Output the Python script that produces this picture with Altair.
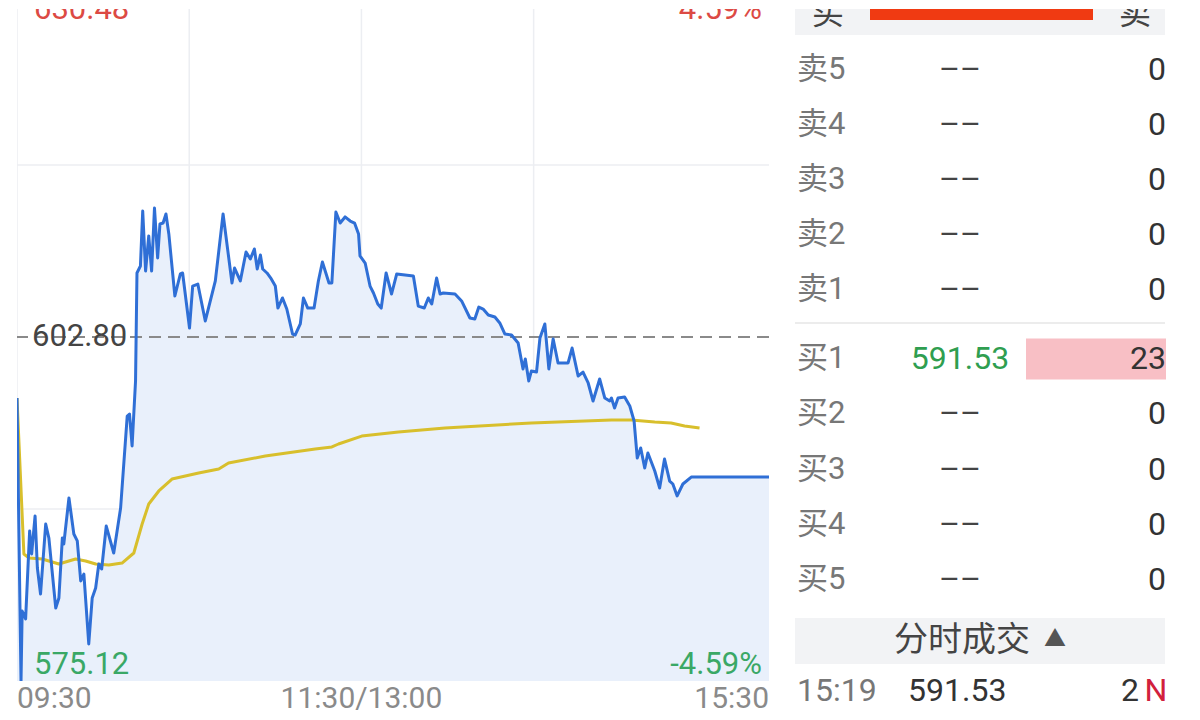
import altair as alt
import pandas as pd

# ---------------- intraday data (chart minutes from 09:30; 240 = 15:00, 262 = 15:30) ----------------
price_t = [0, 1.4, 1.8, 3.0, 4.4, 5.1, 6.3, 7.1, 8.2, 10.0, 11.1, 13.5, 14.6, 15.8, 16.3, 18.1, 19.8, 21.0,
           22.2, 23.3, 25.0, 26.2, 27.4, 28.5, 29.5, 31.1, 33.7, 36.1, 38.4, 39.2, 40.1, 41.3, 41.8, 43.0,
           43.8, 44.8, 45.9, 46.9, 47.9, 49.0, 49.8, 50.9, 51.9, 52.9, 55.0, 56.9, 57.7, 60.1, 61.2, 63.0,
           65.6, 69.1, 71.8, 74.9, 75.8, 77.8, 79.8, 81.3, 82.7, 83.7, 84.8, 85.6, 87.1, 88.6, 90.0, 90.9,
           92.5, 94.0, 96.0, 96.9, 98.7, 99.8, 101.3, 103.5, 105.0, 106.4, 108.7, 109.7, 111.1, 112.6, 114.3,
           116.1, 117.6, 119.0, 119.5, 121.3, 123.0, 124.2, 125.7, 126.9, 128.6, 130.5, 132.3, 138.1, 139.8,
           141.9, 143.3, 144.5, 146.2, 147.4, 148.5, 152.6, 154.9, 157.8, 159.5, 160.9, 162.4, 164.2, 166.5,
           168.2, 170.0, 172.3, 174.6, 176.3, 177.1, 178.3, 179.2, 181.0, 182.2, 183.9, 185.3, 186.8, 188.5,
           192.0, 193.4, 195.5, 197.2, 199.0, 200.7, 203.0, 204.8, 206.5, 207.1, 208.2, 209.4, 211.7, 213.5,
           215.0, 216.1, 217.3, 218.7, 219.8, 222.2, 223.9, 225.6, 227.4, 228.5, 230.0, 232.0, 234.9, 240.0,
           262.0]
price_v = [597.89, 575.12, 580.75, 580.11, 587.19, 585.34, 588.40, 584.21, 582.12, 587.75, 586.63, 580.99,
           581.80, 586.63, 586.14, 589.85, 586.95, 586.39, 583.17, 583.73, 578.10, 581.80, 582.60, 584.53,
           584.13, 587.59, 585.42, 589.04, 596.44, 596.60, 594.03, 599.26, 607.95, 608.51, 612.94, 608.11,
           610.93, 608.11, 613.18, 609.16, 611.89, 611.97, 612.70, 611.09, 606.10, 607.87, 607.95, 603.52,
           606.90, 607.06, 604.09, 607.31, 612.70, 607.15, 608.35, 607.31, 609.64, 609.08, 609.88, 608.27,
           609.40, 608.27, 607.95, 607.47, 606.90, 605.13, 605.94, 605.05, 603.04, 602.96, 603.85, 605.94,
           605.13, 605.13, 607.31, 608.83, 607.15, 607.15, 612.86, 611.97, 612.46, 612.13, 611.97, 611.09,
           609.32, 608.75, 606.90, 606.34, 605.46, 605.13, 607.95, 606.26, 607.87, 607.71, 605.29, 605.13,
           605.94, 605.46, 607.55, 606.26, 606.34, 606.26, 605.70, 604.33, 604.25, 605.21, 605.05, 604.57,
           604.41, 603.93, 603.04, 602.96, 602.32, 600.23, 601.03, 599.26, 600.06, 599.98, 602.72, 603.85,
           600.23, 602.64, 600.71, 600.71, 601.91, 599.66, 599.98, 599.10, 597.65, 599.42, 597.89, 597.65,
           597.89, 597.09, 597.89, 597.97, 597.25, 596.04, 593.06, 593.87, 592.26, 593.47, 592.02, 590.65,
           592.98, 591.21, 590.97, 590.01, 590.97, 591.53, 591.53, 591.53]
avg_t = [0, 2.4, 4.2, 8.8, 14.6, 20.4, 23.9, 27.4, 32.0, 36.6, 40.7, 43.6, 45.9, 49.4, 54.0, 63.3, 70.3,
         73.7, 86.5, 103.9, 109.7, 112.0, 120.1, 132.9, 149.1, 179.2, 207.1, 214.0, 222.2, 227.9, 232.6, 237.8]
avg_v = [597.89, 585.34, 585.02, 584.94, 584.53, 584.94, 584.78, 584.53, 584.45, 584.61, 585.42, 587.75,
         589.36, 590.41, 591.37, 591.86, 592.18, 592.66, 593.22, 593.79, 593.95, 594.19, 594.83, 595.16,
         595.48, 595.88, 596.12, 596.12, 595.96, 595.88, 595.64, 595.48]
prev_close = 602.80

tick_labels = ["09:30", "11:30/13:00", "15:30"]
tick_t = [0, 120, 262]
grid_t = [0, 60, 120, 180]

# ---------------- order book ----------------
sell_levels = ["卖5", "卖4", "卖3", "卖2", "卖1"]
sell_prices = [None, None, None, None, None]
sell_vols = [0, 0, 0, 0, 0]
buy_levels = ["买1", "买2", "买3", "买4", "买5"]
buy_prices = [591.53, None, None, None, None]
buy_vols = [23, 0, 0, 0, 0]
trade_time = ["15:19"]
trade_price = [591.53]
trade_vol = [2]
trade_flag = ["N"]

# ---------------- styles ----------------
BLUE = "#2f6fd6"
AREA = "#e9f0fb"
YEL = "#d8bf2c"
RED = "#dc4a44"
GREEN = "#3aa866"
GREEN2 = "#2f9e50"
PINK = "#f8bfc5"
BAR_RED = "#f03a12"
HDR = "#f2f3f5"
FONT = "Roboto, 'Noto Sans CJK SC'"

W, H = 752, 672
FULL_H = 688  # height of the full +/- range; its top 16px lie above the page

dev = max(abs(v - prev_close) for v in price_v)
yhi, ylo = prev_close + dev, prev_close - dev
ytop = yhi - (yhi - ylo) * (FULL_H - H) / FULL_H
pct = dev / prev_close * 100

xs = alt.Scale(domain=[tick_t[0], tick_t[-1]], nice=False, zero=False)
ys = alt.Scale(domain=[ylo, ytop], nice=False, zero=False)
X = alt.X("t:Q", scale=xs, axis=None)
Y = alt.Y("v:Q", scale=ys, axis=None)

line_df = pd.DataFrame({"t": price_t, "v": price_v})
avg_df = pd.DataFrame({"t": avg_t, "v": avg_v})

vgrid = alt.Chart(pd.DataFrame({"t": grid_t})).mark_rule(
    color="#eceef2", strokeWidth=1.5, clip=True).encode(x=X)
hgrid = alt.Chart(pd.DataFrame({"v": [prev_close - dev / 2, prev_close + dev / 2]})).mark_rule(
    color="#eceef2", strokeWidth=1.5, clip=True).encode(y=Y)
area = alt.Chart(line_df).mark_area(color=AREA, clip=True).encode(x=X, y=Y, y2=alt.datum(ylo))
prev_rule = alt.Chart(pd.DataFrame({"v": [prev_close]})).mark_rule(
    color="#8a8a8a", strokeWidth=2.2, strokeDash=[12, 7], clip=True).encode(y=Y)
blue = alt.Chart(line_df).mark_line(color=BLUE, strokeWidth=3, clip=True,
                                    strokeJoin="round").encode(x=X, y=Y)
yellow = alt.Chart(avg_df).mark_line(color=YEL, strokeWidth=3, clip=True,
                                     strokeJoin="round").encode(x=X, y=Y)

lab_df = pd.DataFrame({
    "hi": [f"{yhi:.2f}"], "lo": [f"{ylo:.2f}"], "pc": [f"{prev_close:.2f}"],
    "up": [f"{pct:.2f}%"], "dn": [f"-{pct:.2f}%"], "v": [prev_close]})
base_lab = alt.Chart(lab_df)
t_hi = base_lab.mark_text(align="left", baseline="alphabetic", fontSize=31, color=RED, font=FONT,
                          clip=True).encode(x=alt.value(17), y=alt.value(10), text="hi:N")
t_up = base_lab.mark_text(align="right", baseline="alphabetic", fontSize=31, color=RED, font=FONT,
                          clip=True).encode(x=alt.value(745), y=alt.value(10), text="up:N")
t_pc = base_lab.mark_text(align="left", baseline="middle", fontSize=31, color="#444444",
                          font=FONT).encode(x=alt.value(15), y=Y, text="pc:N")
t_lo = base_lab.mark_text(align="left", baseline="middle", fontSize=31, color=GREEN,
                          font=FONT).encode(x=alt.value(17), y=alt.value(656), text="lo:N")
t_dn = base_lab.mark_text(align="right", baseline="middle", fontSize=31, color=GREEN,
                          font=FONT).encode(x=alt.value(745), y=alt.value(656), text="dn:N")

ticks = []
for lab, t, al in zip(tick_labels, tick_t, ["left", "center", "right"]):
    ticks.append(alt.Chart(pd.DataFrame({"lab": [lab], "t": [t]})).mark_text(
        align=al, baseline="middle", fontSize=30, color="#8a8a8a", font=FONT
    ).encode(x=X, y=alt.value(690), text="lab:N"))

left = alt.layer(vgrid, hgrid, area, prev_rule, yellow, blue, t_hi, t_up, t_pc, t_lo, t_dn,
                 *ticks).properties(width=W, height=H)

# ---------------- right panel ----------------
RW, RH = 372, 700
one = pd.DataFrame({"a": [0]})
FS = 32

hdr_bg = alt.Chart(one).mark_rect(color=HDR).encode(
    x=alt.value(0), x2=alt.value(370), y=alt.value(0), y2=alt.value(26))
hdr2_bg = alt.Chart(one).mark_rect(color=HDR).encode(
    x=alt.value(0), x2=alt.value(370), y=alt.value(609), y2=alt.value(655))
sep = alt.Chart(one).mark_rule(color="#ececec", strokeWidth=2).encode(
    x=alt.value(0), x2=alt.value(370), y=alt.value(314))

ratio_df = pd.DataFrame({"buy": [sum(buy_vols)], "sell": [sum(sell_vols)]})
ratio = alt.Chart(ratio_df).transform_calculate(
    share="datum.buy / (datum.buy + datum.sell)"
).mark_rect(color=BAR_RED).encode(
    x=alt.X("share:Q", scale=alt.Scale(domain=[0, 1], range=[75, 298]), axis=None),
    x2=alt.datum(0), y=alt.value(0), y2=alt.value(11))

hdr_buy = alt.Chart(one).mark_text(text="买", fontSize=FS, color="#444", font=FONT, baseline="alphabetic",
                                    clip=True).encode(x=alt.value(33), y=alt.value(15))
hdr_sell = alt.Chart(one).mark_text(text="卖", fontSize=FS, color="#444", font=FONT, baseline="alphabetic",
                                     clip=True).encode(x=alt.value(340), y=alt.value(15))

maxvol = max(buy_vols + sell_vols)
pcol_expr = (f"!isValid(datum.price) ? '#444444' : (datum.price < {prev_close} ? '{GREEN2}' : "
             f"(datum.price > {prev_close} ? '{RED}' : '#444444'))")


def book(levels, prices, vols, rng, with_bar):
    df = pd.DataFrame({"level": levels, "price": prices, "vol": vols})
    base = alt.Chart(df).transform_calculate(
        ptxt="isValid(datum.price) ? format(datum.price, '.2f') : '\u2013\u2013'",
        pcol=pcol_expr)
    Yb = alt.Y("level:N", scale=alt.Scale(type="point", domain=levels, range=rng, padding=0), axis=None)
    layers = []
    if with_bar:
        layers.append(base.transform_filter("datum.vol > 0").mark_bar(size=41, color=PINK).encode(
            x=alt.X("vol:Q", scale=alt.Scale(domain=[0, maxvol], range=[371, 231]), axis=None),
            x2=alt.datum(0), y=Yb))
    layers.append(base.mark_text(align="left", baseline="middle", fontSize=FS - 1, color="#777777",
                                 font=FONT).encode(x=alt.value(2), y=Yb, text="level:N"))
    layers.append(base.mark_text(align="center", baseline="middle", fontSize=FS, font=FONT).encode(
        x=alt.value(165), y=Yb, text="ptxt:N", color=alt.Color("pcol:N", scale=None)))
    layers.append(base.mark_text(align="right", baseline="middle", fontSize=FS, color="#333333",
                                 font=FONT).encode(x=alt.value(371), y=Yb, text="vol:Q"))
    return alt.layer(*layers)


sell_book = book(sell_levels, sell_prices, sell_vols, [61, 281], False)
buy_book = book(buy_levels, buy_prices, buy_vols, [350, 571], True)

hdr2_txt = alt.Chart(one).mark_text(text="分时成交", fontSize=34, color="#444", font=FONT,
                                     baseline="middle").encode(x=alt.value(167), y=alt.value(632))
hdr2_tri = alt.Chart(one).mark_text(text="▲", fontSize=22, color="#555", font=FONT,
                                     baseline="middle").encode(x=alt.value(260), y=alt.value(630))

trade_df = pd.DataFrame({"time": trade_time, "price": trade_price, "vol": trade_vol, "flag": trade_flag})
tb = alt.Chart(trade_df)
tr_time = tb.mark_text(align="left", baseline="middle", fontSize=FS, color="#777777", font=FONT).encode(
    x=alt.value(2), y=alt.value(682), text="time:N")
tr_price = tb.mark_text(align="left", baseline="middle", fontSize=FS, color="#333333", font=FONT).encode(
    x=alt.value(113), y=alt.value(682), text=alt.Text("price:Q", format=".2f"))
tr_vol = tb.mark_text(align="right", baseline="middle", fontSize=FS, color="#333333", font=FONT).encode(
    x=alt.value(344), y=alt.value(682), text="vol:Q")
tr_flag = tb.mark_text(align="center", baseline="middle", fontSize=FS, color="#d2203c", font=FONT).encode(
    x=alt.value(361), y=alt.value(682), text="flag:N")

right = alt.layer(hdr_bg, hdr2_bg, sep, ratio, hdr_buy, hdr_sell, sell_book, buy_book, hdr2_txt, hdr2_tri,
                  tr_time, tr_price, tr_vol, tr_flag).resolve_scale(
    x="independent", y="independent").properties(width=RW, height=RH)

chart = alt.hconcat(left, right, spacing=23).properties(
    padding={"left": 8, "top": 0, "right": 0, "bottom": 0}
).configure_view(stroke="transparent")

chart.save("out.html", embed_options={"renderer": "svg", "actions": False})
